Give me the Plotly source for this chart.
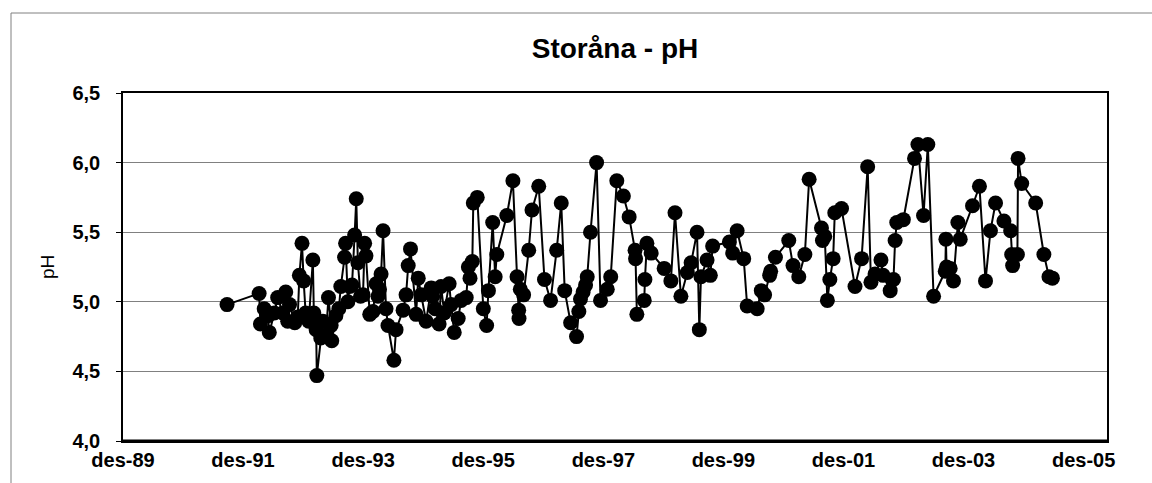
import plotly.graph_objects as go

dates = [
    "1991-08-26", "1992-03-08", "1992-03-16", "1992-04-08", "1992-05-01", "1992-05-09",
    "1992-06-09", "1992-06-29", "1992-07-30", "1992-08-17", "1992-08-29", "1992-09-09",
    "1992-10-11", "1992-10-29", "1992-11-08", "1992-11-24", "1992-12-04", "1992-12-16",
    "1993-01-04", "1993-01-29", "1993-02-04", "1993-02-18", "1993-02-22", "1993-03-18",
    "1993-03-31", "1993-04-18", "1993-05-04", "1993-05-20", "1993-05-24", "1993-06-18",
    "1993-07-06", "1993-07-18", "1993-08-10", "1993-08-16", "1993-08-30", "1993-09-10",
    "1993-09-24", "1993-10-10", "1993-10-20", "1993-10-30", "1993-11-15", "1993-11-30",
    "1993-12-10", "1993-12-18", "1994-01-10", "1994-01-30", "1994-02-18", "1994-03-01",
    "1994-03-10", "1994-03-20", "1994-04-01", "1994-04-19", "1994-05-01", "1994-06-06",
    "1994-06-19", "1994-08-01", "1994-08-19", "1994-09-01", "1994-09-15", "1994-10-19",
    "1994-11-01", "1994-11-19", "1994-12-19", "1995-01-19", "1995-01-28", "1995-02-12",
    "1995-03-08", "1995-03-20", "1995-04-08", "1995-05-08", "1995-05-20", "1995-06-08",
    "1995-07-02", "1995-07-20", "1995-08-20", "1995-09-02", "1995-09-12", "1995-09-26",
    "1995-10-02", "1995-10-26", "1995-12-02", "1995-12-22", "1996-01-02", "1996-01-28",
    "1996-02-12", "1996-02-22", "1996-04-23", "1996-05-30", "1996-06-24", "1996-07-04",
    "1996-07-06", "1996-07-14", "1996-08-03", "1996-09-03", "1996-09-23", "1996-11-03",
    "1996-12-08", "1997-01-14", "1997-02-20", "1997-03-20", "1997-04-10", "1997-05-16",
    "1997-06-21", "1997-07-05", "1997-07-15", "1997-07-31", "1997-08-15", "1997-08-25",
    "1997-09-14", "1997-10-21", "1997-11-14", "1997-12-25", "1998-01-15", "1998-02-21",
    "1998-04-02", "1998-05-07", "1998-06-12", "1998-06-15", "1998-06-23", "1998-08-07",
    "1998-08-11", "1998-08-23", "1998-09-18", "1998-12-06", "1999-01-16", "1999-02-10",
    "1999-03-18", "1999-04-26", "1999-05-19", "1999-06-24", "1999-07-08", "1999-07-18",
    "1999-08-24", "1999-09-13", "1999-09-27", "2000-01-07", "2000-01-27", "2000-02-23",
    "2000-04-03", "2000-04-24", "2000-06-24", "2000-07-19", "2000-08-08", "2000-09-08",
    "2000-09-14", "2000-10-13", "2001-01-02", "2001-01-28", "2001-03-04", "2001-04-10",
    "2001-05-06", "2001-07-20", "2001-07-26", "2001-08-09", "2001-08-25", "2001-09-09",
    "2001-09-29", "2001-10-09", "2001-11-19", "2002-02-09", "2002-03-21", "2002-04-27",
    "2002-05-17", "2002-06-11", "2002-07-17", "2002-07-30", "2002-09-11", "2002-10-01",
    "2002-10-11", "2002-10-21", "2002-11-30", "2003-02-06", "2003-02-27", "2003-04-02",
    "2003-04-28", "2003-06-02", "2003-08-12", "2003-08-16", "2003-08-20", "2003-09-11",
    "2003-10-01", "2003-10-28", "2003-11-11", "2004-01-25", "2004-03-07", "2004-04-13",
    "2004-05-13", "2004-06-13", "2004-08-03", "2004-09-13", "2004-09-19", "2004-09-25",
    "2004-10-24", "2004-10-28", "2004-11-19", "2005-02-12", "2005-04-03", "2005-05-04",
    "2005-05-25",
]

ph = [
    4.98, 5.06, 4.84, 4.95, 4.90, 4.78,
    4.92, 5.03, 4.92, 5.07, 4.86, 4.98,
    4.85, 4.89, 5.19, 5.42, 5.15, 4.92,
    4.86, 5.30, 4.92, 4.80, 4.47, 4.74,
    4.86, 4.76, 5.03, 4.83, 4.72, 4.90,
    4.95, 5.11, 5.32, 5.42, 5.00, 5.11,
    5.12, 5.48, 5.74, 5.28, 5.04, 5.05,
    5.42, 5.33, 4.91, 4.93, 5.13, 5.04,
    5.09, 5.20, 5.51, 4.95, 4.83, 4.58,
    4.80, 4.94, 5.05, 5.26, 5.38, 4.91,
    5.17, 5.05, 4.86, 5.10, 5.04, 4.95,
    4.84, 5.11, 4.92, 5.13, 4.98, 4.78,
    4.88, 5.01, 5.03, 5.25, 5.17, 5.29,
    5.71, 5.75, 4.95, 4.83, 5.08, 5.57,
    5.18, 5.34, 5.62, 5.87, 5.18, 4.94,
    4.88, 5.09, 5.05, 5.37, 5.66, 5.83,
    5.16, 5.01, 5.37, 5.71, 5.08, 4.85,
    4.75, 4.93, 5.02, 5.07, 5.12, 5.18,
    5.50, 6.00, 5.01, 5.09, 5.18, 5.87,
    5.76, 5.61, 5.37, 5.31, 4.91, 5.01,
    5.16, 5.42, 5.35, 5.24, 5.15, 5.64,
    5.04, 5.21, 5.28, 5.50, 4.80, 5.18,
    5.30, 5.19, 5.40, 5.43, 5.35, 5.51,
    5.31, 4.97, 4.95, 5.08, 5.05, 5.19,
    5.22, 5.32, 5.44, 5.26, 5.18, 5.34,
    5.88, 5.53, 5.44, 5.47, 5.01, 5.16,
    5.31, 5.64, 5.67, 5.11, 5.31, 5.97,
    5.14, 5.20, 5.30, 5.19, 5.08, 5.16,
    5.44, 5.57, 5.59, 6.03, 6.13, 5.62,
    6.13, 5.04, 5.22, 5.45, 5.25, 5.24,
    5.15, 5.57, 5.45, 5.69, 5.83, 5.15,
    5.51, 5.71, 5.58, 5.51, 5.34, 5.26,
    5.34, 6.03, 5.85, 5.71, 5.34, 5.18,
    5.17,
]

x_tick_dates = ["1989-12-01", "1991-12-01", "1993-12-01", "1995-12-01", "1997-12-01",
                "1999-12-01", "2001-12-01", "2003-12-01", "2005-12-01"]
x_tick_labels = ["des-89", "des-91", "des-93", "des-95", "des-97",
                 "des-99", "des-01", "des-03", "des-05"]
y_tick_vals = [4.0, 4.5, 5.0, 5.5, 6.0, 6.5]
y_tick_labels = ["4,0", "4,5", "5,0", "5,5", "6,0", "6,5"]

FONT = "Liberation Sans, Arial, sans-serif"

fig = go.Figure()
fig.add_trace(go.Scatter(
    x=dates, y=ph, mode="lines+markers",
    line=dict(color="black", width=2),
    marker=dict(color="black", size=15, symbol="circle"),
    showlegend=False,
))

fig.update_layout(
    width=1152, height=483,
    margin=dict(l=123, r=45, t=93, b=42),
    paper_bgcolor="white", plot_bgcolor="white",
    title=dict(text="<b>Storåna - pH</b>", x=615 / 1152, xanchor="center",
               y=1 - 48 / 483, yanchor="middle", yref="container",
               font=dict(family=FONT, size=28, color="black")),
    font=dict(family=FONT, color="black"),
)

fig.update_xaxes(
    type="date", range=["1989-12-01", "2006-04-22"],
    tickvals=x_tick_dates, ticktext=x_tick_labels,
    tickfont=dict(family=FONT, size=20, color="black", weight="bold"),
    showgrid=False, ticks="", zeroline=False,
    showline=True, linecolor="black", linewidth=1.5, mirror=True,
)
fig.update_yaxes(
    range=[4.0, 6.5], tickvals=y_tick_vals, ticktext=y_tick_labels,
    tickfont=dict(family=FONT, size=20, color="black", weight="bold"),
    showgrid=True, gridcolor="#808080", gridwidth=1,
    ticks="outside", ticklen=5, tickcolor="black", ticklabelstandoff=12,
    zeroline=False,
    showline=True, linecolor="black", linewidth=1.5, mirror=True,
)

# thicker bottom axis line
fig.add_shape(type="line", xref="paper", yref="paper", x0=0, x1=1, y0=0, y1=0,
              line=dict(color="black", width=3))
# outer chart border
fig.add_shape(type="rect", xref="paper", yref="paper",
              x0=(11 - 123) / 984, x1=1.06, y0=-0.2, y1=(441 - 13) / 348,
              line=dict(color="#808080", width=1), fillcolor="rgba(0,0,0,0)", layer="below")

fig.add_annotation(text="pH", xref="paper", yref="paper",
                   x=(47 - 123) / 984, y=0.5, textangle=-90, showarrow=False,
                   font=dict(family=FONT, size=19, color="black"),
                   xanchor="center", yanchor="middle")

fig.write_html("out.html", config={"displayModeBar": False},
               post_script="document.body.style.margin='0';")
